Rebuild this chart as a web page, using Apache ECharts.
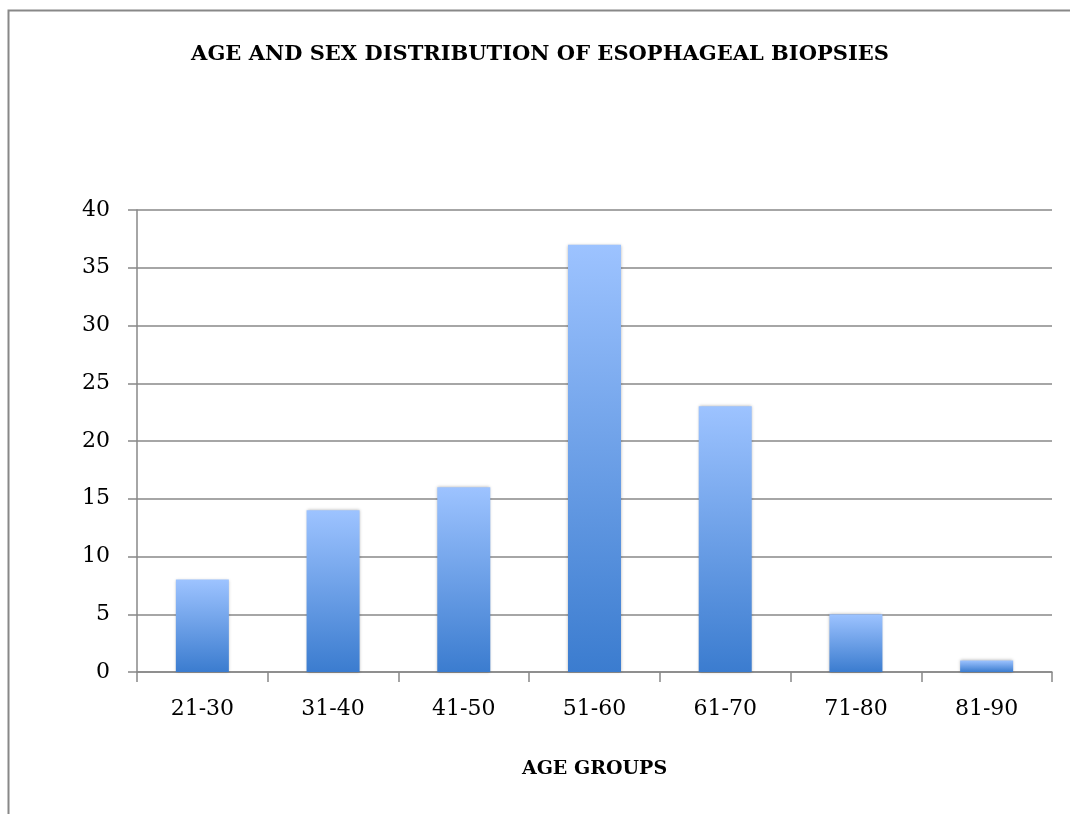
<!DOCTYPE html>
<html lang="en">
<head>
    <meta charset="UTF-8">
    <title>age groups</title>
    <script type="text/javascript" src="https://cdn.jsdelivr.net/npm/echarts@6/dist/echarts.min.js"></script>
    <style>body{margin:0;background:#fff;}</style>
</head>
<body>
    <div id="main" style="width: 1070px; height: 814px"></div>
    <script type="text/javascript">
        var myChart = echarts.init(document.getElementById('main'));

        var ageGroups = ['21-30', '31-40', '41-50', '51-60', '61-70', '71-80', '81-90'];
        var counts = [8, 14, 16, 37, 23, 5, 1];

        var serif = '"DejaVu Serif", "Liberation Serif", serif';

        var option = {
            backgroundColor: '#fff',
            animation: false,
            title: {
                text: 'AGE AND SEX DISTRIBUTION OF ESOPHAGEAL BIOPSIES',
                left: 535, top: 39, textAlign: 'center',
                textStyle: {fontFamily: serif, fontWeight: 'bold', fontSize: 21, color: '#000'}
            },
            graphic: [{
                type: 'rect',
                shape: {x: 8.5, y: 10.5, width: 1200, height: 1000},
                style: {fill: 'none', stroke: '#888', lineWidth: 2},
                silent: true
            }],
            grid: {left: 137, right: 18, top: 210, bottom: 142},
            xAxis: {
                type: 'category',
                data: ageGroups,
                name: 'AGE GROUPS',
                nameLocation: 'middle',
                nameGap: 88,
                nameTextStyle: {fontFamily: serif, fontWeight: 'bold', fontSize: 19, color: '#000'},
                axisLine: {lineStyle: {color: '#888', width: 1.5}},
                axisTick: {show: true, length: 10, lineStyle: {color: '#888', width: 1.5}},
                axisLabel: {fontFamily: serif, fontSize: 22, color: '#000', margin: 26}
            },
            yAxis: {
                type: 'value',
                min: 0, max: 40, interval: 5,
                axisLine: {show: true, lineStyle: {color: '#888', width: 1.5}},
                axisTick: {show: true, length: 9, lineStyle: {color: '#888', width: 1.5}},
                splitLine: {lineStyle: {color: '#888', width: 1.5}},
                axisLabel: {fontFamily: serif, fontSize: 22, color: '#000', margin: 27}
            },
            series: [{
                type: 'bar',
                data: counts,
                barWidth: 53,
                itemStyle: {
                    color: new echarts.graphic.LinearGradient(0, 0, 0, 1, [
                        {offset: 0, color: '#9dc3ff'},
                        {offset: 1, color: '#3b7ccf'}
                    ]),
                    shadowColor: 'rgba(0,0,0,0.3)',
                    shadowBlur: 3
                }
            }]
        };

        myChart.setOption(option);
    </script>
</body>
</html>
